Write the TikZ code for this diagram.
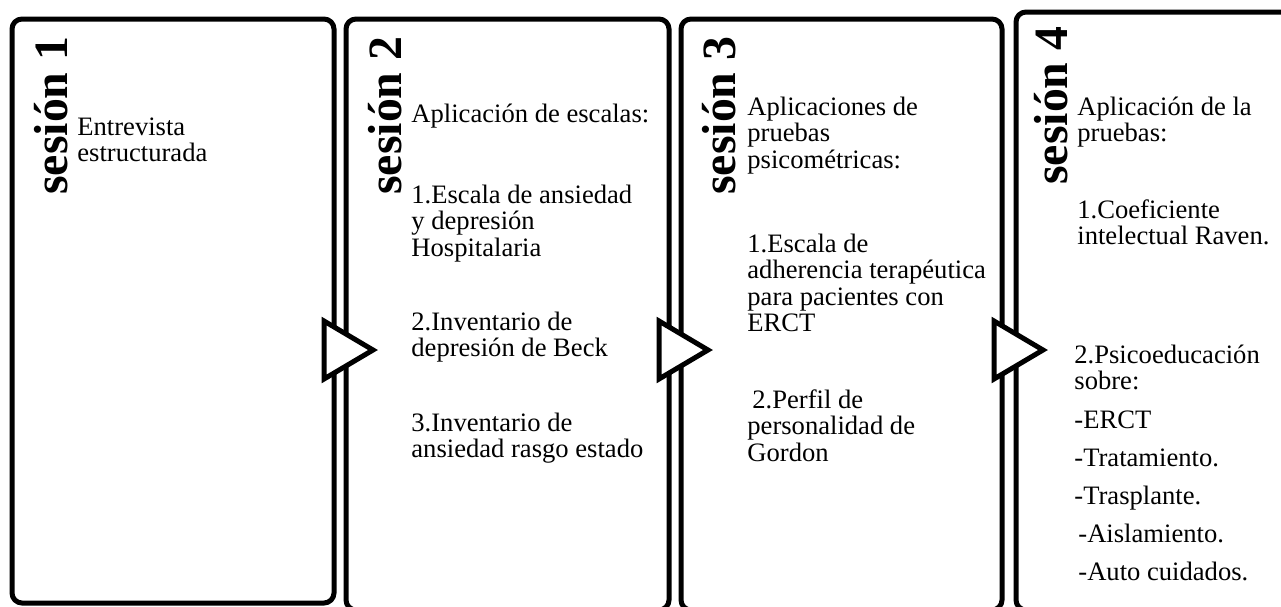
\documentclass[tikz,border=0pt]{standalone}
\usepackage{fontspec}
\setmainfont{Liberation Serif}
\usetikzlibrary{positioning}

\newcommand\bodyfont{\fontsize{13.3pt}{13.25pt}\selectfont\lineskiplimit=-20pt\relax}

\begin{document}
\begin{tikzpicture}[x=0.5pt,y=-0.5pt,
  box/.style={line width=2.5pt,rounded corners=5pt},
  chevron/.style={line width=2.5pt,line join=miter,fill=white},
  title/.style={rotate=90,anchor=base west,inner sep=0pt,font=\fontsize{23.9pt}{24pt}\selectfont\bfseries},
  body/.style={anchor=base west,inner sep=0pt,align=left,font=\bodyfont}]

% picture size in pixels
\useasboundingbox (0,0) rectangle (1281,606);
\clip (0,0) rectangle (1281,606);

% session boxes
\def\yt{19} % top of boxes
\def\yb{610} % bottom of boxes (cut off)
\draw[box] (12,\yt) rectangle (334,603);
\draw[box] (346,\yt) rectangle (669,\yb);
\draw[box] (681,\yt) rectangle (1002,\yb);
\draw[box] (1016,12) rectangle (1300,\yb);

% chevrons between the boxes
\foreach \xl in {346,681,1016}{
  \draw[chevron] (\xl-22,321) -- (\xl+27,350) -- (\xl-22,379) -- cycle;
}

% session titles
\node[title] (t1) at (67,195) {sesión 1};
\node[title] (t2) at (401,195) {sesión 2};
\node[title] (t3) at (735,195) {sesión 3};
\node[title] (t4) at (1067,185) {sesión 4};

% text blocks, placed at the baseline of their last line
% session 1
\node[body] (e1) at (77,161.5) {Entrevista\\estructurada};

% session 2
\node[body] (a2) at (411,122) {Aplicación de escalas:};
\node[body] (b2) at (411,256) {1.Escala de ansiedad\\y depresión\\Hospitalaria};
\node[body] (c2) at (411,356.5) {2.Inventario de\\depresión de Beck};
\node[body] (d2) at (411,457.5) {3.Inventario de\\ansiedad rasgo estado};

% session 3
\node[body] (a3) at (747,168) {Aplicaciones de\\pruebas\\psicométricas:};
\node[body] (b3) at (747,331.5) {1.Escala de\\adherencia terapéutica\\para pacientes con\\ERCT};
\node[body] (c3) at (747,461) {\hspace{2.5pt}2.Perfil de\\personalidad de\\Gordon};

% session 4
\node[body] (a4) at (1077,141.5) {Aplicación de la\\pruebas:};
\node[body] (b4) at (1077,244.5) {1.Coeficiente\\intelectual Raven.};
\node[body] (c4) at (1074,389.5) {2.Psicoeducación\\sobre:};
\node[body] (d4) at (1074,580) {-ERCT\\[5.75pt]-Tratamiento.\\[5.75pt]-Trasplante.\\[5.75pt]\hspace{2pt}-Aislamiento.\\[5.75pt]\hspace{2pt}-Auto cuidados.};

\end{tikzpicture}
\end{document}
